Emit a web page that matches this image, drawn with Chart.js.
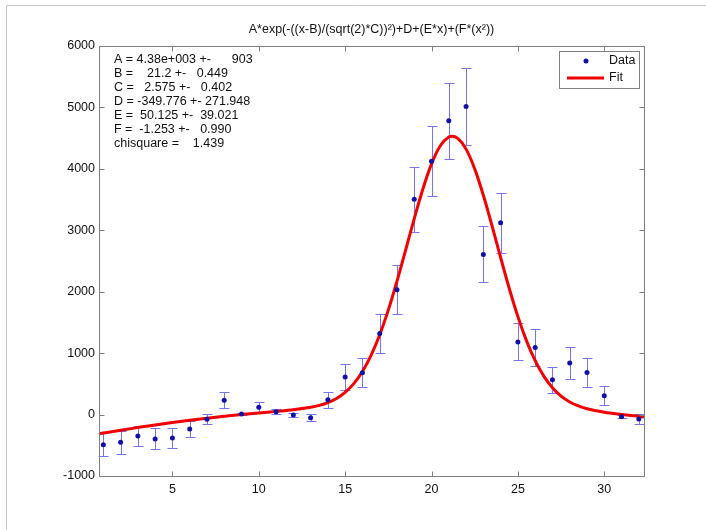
<!DOCTYPE html>
<html>
<head>
<meta charset="utf-8">
<script src="https://cdn.jsdelivr.net/npm/chart.js@4.4.0/dist/chart.umd.min.js"></script>
<style>
  body { margin: 0; background: #fff; }
  #wrap { position: relative; width: 706px; height: 530px; }
</style>
</head>
<body>
<div id="wrap"><canvas id="fitChart" width="706" height="530"></canvas></div>
<script>
// title and fit results printed on the plot
const titleText = 'A*exp(-((x-B)/(sqrt(2)*C))²)+D+(E*x)+(F*(x²))';
const fitLines = [
    'A = 4.38e+003 +-      903',
    'B =    21.2 +-   0.449',
    'C =   2.575 +-   0.402',
    'D = -349.776 +- 271.948',
    'E =  50.125 +-  39.021',
    'F =  -1.253 +-   0.990',
    'chisquare =    1.439'
];

// measured points
const dataX = [1, 2, 3, 4, 5, 6, 7, 8, 9, 10, 11, 12, 13, 14, 15, 16,
    17, 18, 19, 20, 21, 22, 23, 24, 25, 26, 27, 28, 29, 30, 31, 32];
const dataY = [-490, -450, -347, -396, -380, -234, -77, 232, 10, 118, 47, -6, -50, 242, 610, 680,
    1320, 2034, 3505, 4122, 4782, 5015, 2607, 3122, 1183, 1092, 567, 838, 686, 307, -34, -71];
const dataErr = [190, 190, 165, 170, 167, 125, 80, 133, 15, 80, 45, 37, 60, 133, 215, 235,
    320, 400, 530, 570, 616, 630, 455, 490, 300, 295, 210, 257, 232, 150, 22, 80];

// fitted curve
const fitX = [0.75, 1, 2, 3, 4, 5, 6, 7, 8, 9, 10, 11, 12, 13, 13.5, 14, 14.5, 15, 15.5, 16, 16.5,
    17, 17.5, 18, 18.5, 19, 19.5, 20, 20.5, 21, 21.2, 21.5, 22, 22.5, 23, 23.5, 24, 24.5,
    25, 25.5, 26, 26.5, 27, 27.5, 28, 28.5, 29, 30, 31, 32, 32.3];
const fitY = [-313, -301, -254, -211, -169, -130, -94, -60, -29, 0, 27, 52, 79, 118, 149, 194, 262, 362, 504, 702, 964,
    1298, 1704, 2171, 2677, 3191, 3673, 4081, 4372, 4517, 4530, 4499, 4321, 4000, 3570, 3075, 2557, 2053,
    1594, 1200, 877, 626, 437, 300, 205, 140, 95, 39, 3, -28, -38];

const xTicks = [5, 10, 15, 20, 25, 30];
const yTicks = [-1000, 0, 1000, 2000, 3000, 4000, 5000, 6000];

const font = '"Liberation Sans", Arial, sans-serif';

// error bars under the points
const errorBars = {
    id: 'errorBars',
    beforeDatasetsDraw(chart) {
        const { ctx, scales: { x, y } } = chart;
        ctx.save();
        ctx.strokeStyle = 'rgb(118,118,232)';
        ctx.lineWidth = 1;
        for (let i = 0; i < dataX.length; i++) {
            const px = Math.round(x.getPixelForValue(dataX[i])) + 0.5;
            const top = Math.round(y.getPixelForValue(dataY[i] + dataErr[i])) + 0.5;
            const bot = Math.round(y.getPixelForValue(dataY[i] - dataErr[i])) + 0.5;
            ctx.beginPath();
            ctx.moveTo(px, top);
            ctx.lineTo(px, bot);
            ctx.moveTo(px - 5, top);
            ctx.lineTo(px + 5, top);
            ctx.moveTo(px - 5, bot);
            ctx.lineTo(px + 5, bot);
            ctx.stroke();
        }
        ctx.restore();
    }
};

// matlab style box, inward ticks, title, legend and fit text
const decorations = {
    id: 'decorations',
    afterDraw(chart) {
        const { ctx, chartArea: a, scales: { x, y } } = chart;
        const L = Math.round(a.left) + 0.5, R = Math.round(a.right) + 0.5;
        const T = Math.round(a.top) + 0.5, B = Math.round(a.bottom) + 0.5;
        ctx.save();

        // outer figure frame
        ctx.strokeStyle = '#c8c8c8';
        ctx.beginPath();
        ctx.moveTo(6.5, 530);
        ctx.lineTo(6.5, 5.5);
        ctx.lineTo(706, 5.5);
        ctx.stroke();

        ctx.strokeStyle = '#808080';
        ctx.lineWidth = 1;
        ctx.strokeRect(L, T, R - L, B - T);
        ctx.beginPath();
        xTicks.forEach(v => {
            const px = Math.round(x.getPixelForValue(v)) + 0.5;
            ctx.moveTo(px, B); ctx.lineTo(px, B - 5);
            ctx.moveTo(px, T); ctx.lineTo(px, T + 5);
        });
        yTicks.forEach(v => {
            const py = Math.round(y.getPixelForValue(v)) + 0.5;
            ctx.moveTo(L, py); ctx.lineTo(L + 5, py);
            ctx.moveTo(R, py); ctx.lineTo(R - 5, py);
        });
        ctx.stroke();

        ctx.fillStyle = '#111';
        ctx.font = '12.5px ' + font;
        ctx.textAlign = 'center';
        ctx.textBaseline = 'middle';
        ctx.fillText(titleText, (a.left + a.right) / 2, 30);

        ctx.textAlign = 'left';
        fitLines.forEach((line, i) => {
            ctx.fillText(line, 114, 59.5 + i * 14.05);
        });

        // legend
        ctx.fillStyle = '#fff';
        ctx.fillRect(559.5, 51.5, 80, 37);
        ctx.strokeStyle = '#808080';
        ctx.strokeRect(559.5, 51.5, 80, 37);
        const ds = chart.data.datasets;
        ctx.fillStyle = ds[0].backgroundColor;
        ctx.beginPath();
        ctx.arc(586, 61, 2.5, 0, Math.PI * 2);
        ctx.fill();
        ctx.strokeStyle = ds[1].borderColor;
        ctx.lineWidth = 3;
        ctx.beginPath();
        ctx.moveTo(567, 78);
        ctx.lineTo(604, 78);
        ctx.stroke();
        ctx.fillStyle = '#111';
        ctx.fillText(ds[0].label, 609, 61);
        ctx.fillText(ds[1].label, 609, 78);
        ctx.restore();
    }
};

new Chart(document.getElementById('fitChart'), {
    type: 'scatter',
    data: {
        datasets: [{
            label: 'Data',
            data: dataX.map((v, i) => ({ x: v, y: dataY[i] })),
            backgroundColor: '#1010a8',
            borderColor: '#1010a8',
            pointRadius: 2.5,
            pointBorderWidth: 0,
            order: 1
        }, {
            label: 'Fit',
            data: fitX.map((v, i) => ({ x: v, y: fitY[i] })),
            showLine: true,
            borderColor: '#f00000',
            borderWidth: 3,
            pointRadius: 0,
            cubicInterpolationMode: 'monotone',
            order: 2
        }]
    },
    options: {
        responsive: false,
        animation: false,
        devicePixelRatio: 1,
        layout: { padding: { left: 39, right: 62, top: 46, bottom: 24 } },
        plugins: {
            legend: { display: false },
            title: { display: false },
            tooltip: { enabled: false }
        },
        scales: {
            x: {
                type: 'linear',
                min: 0.75,
                max: 32.3,
                afterBuildTicks: scale => { scale.ticks = xTicks.map(v => ({ value: v })); },
                afterFit: scale => { scale.height = 30; },
                grid: { display: false, drawTicks: false },
                border: { display: false },
                ticks: { color: '#111', padding: 6, font: { family: font, size: 12.5 }, maxRotation: 0,
                    callback: v => String(v) }
            },
            y: {
                min: -1000,
                max: 6000,
                afterBuildTicks: scale => { scale.ticks = yTicks.map(v => ({ value: v })); },
                afterFit: scale => { scale.width = 60; },
                grid: { display: false, drawTicks: false },
                border: { display: false },
                ticks: { color: '#111', padding: 4, font: { family: font, size: 12.5 },
                    callback: v => String(v) }
            }
        }
    },
    plugins: [errorBars, decorations]
});
</script>
</body>
</html>
